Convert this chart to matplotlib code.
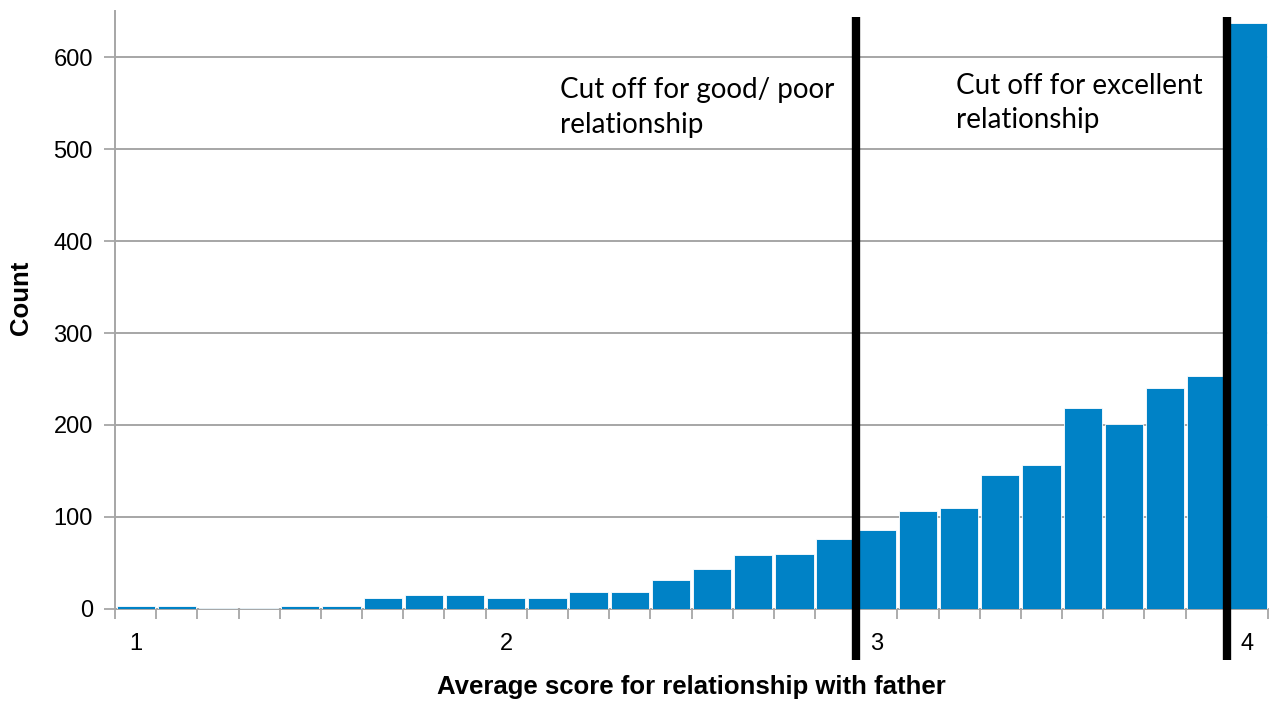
import matplotlib
matplotlib.use("Agg")
import matplotlib.pyplot as plt
import numpy as np

# Data: average score (1 to 4 in steps of 1/9) and counts
scores = [1 + i / 9 for i in range(28)]
counts = [3, 3, 1, 1, 3, 3, 12, 15, 15, 12, 12, 19, 19, 32, 43, 59, 60, 76,
          86, 106, 110, 146, 157, 218, 201, 240, 253, 637]
tick_values = [1, 2, 3, 4]
tick_labels = ["1", "2", "3", "4"]
cutoffs = [3.0, 4.0]
cutoff_texts = ["Cut off for good/ poor\nrelationship",
                "Cut off for excellent\nrelationship"]

plt.rcParams['font.family'] = ['Liberation Sans', 'DejaVu Sans']

fig = plt.figure(figsize=(12.7, 7.02), dpi=100)
ax = fig.add_axes([0.0906, 0.1325, 0.9078, 0.8518])

x = np.arange(len(counts))
ax.bar(x, counts, width=0.93, color="#0082C6", edgecolor="white",
       linewidth=0.6, zorder=3)

ax.set_xlim(-0.5, len(counts) - 0.5)
ax.set_ylim(0, 650)
ax.set_yticks(range(0, 700, 100))
ax.yaxis.grid(True, color="#A6A6A6", linewidth=1.4, zorder=0)
ax.set_axisbelow(True)

# x tick labels at the category of each integer score
major_pos = [scores.index(min(scores, key=lambda s: abs(s - v))) for v in tick_values]
ax.set_xticks(major_pos)
ax.set_xticklabels(tick_labels)
ax.set_xticks(np.arange(-0.5, len(counts), 1.0), minor=True)
ax.tick_params(axis='x', which='major', length=0, pad=17, labelsize=17)
ax.tick_params(axis='x', which='minor', length=7, width=1.3, color="#A6A6A6")
ax.tick_params(axis='y', which='major', length=8, width=1.3, color="#A6A6A6",
               labelsize=17, pad=8)

for s in ['top', 'right']:
    ax.spines[s].set_visible(False)
for s in ['left', 'bottom']:
    ax.spines[s].set_color("#A6A6A6")
    ax.spines[s].set_linewidth(1.4)

# cutoff lines drawn at the boundary before the cutoff score category
for c in cutoffs:
    idx = scores.index(min(scores, key=lambda s: abs(s - c)))
    ax.plot([idx - 0.5, idx - 0.5], [-55, 643], color="black", linewidth=6,
            solid_capstyle='butt', clip_on=False, zorder=5)

ax.text(10.31, 578, cutoff_texts[0], fontsize=20, family=['Lato', 'DejaVu Sans'],
        va='top', ha='left', linespacing=1.42)
ax.text(19.92, 583, cutoff_texts[1], fontsize=20, family=['Lato', 'DejaVu Sans'],
        va='top', ha='left', linespacing=1.42)

ax.set_xlabel("Average score for relationship with father", fontsize=18.5,
              fontweight='bold', labelpad=15)
ax.set_ylabel("Count", fontsize=18.5, fontweight='bold')
ax.yaxis.set_label_coords(-0.071, 0.52)

fig.savefig("out.png", dpi=100)
